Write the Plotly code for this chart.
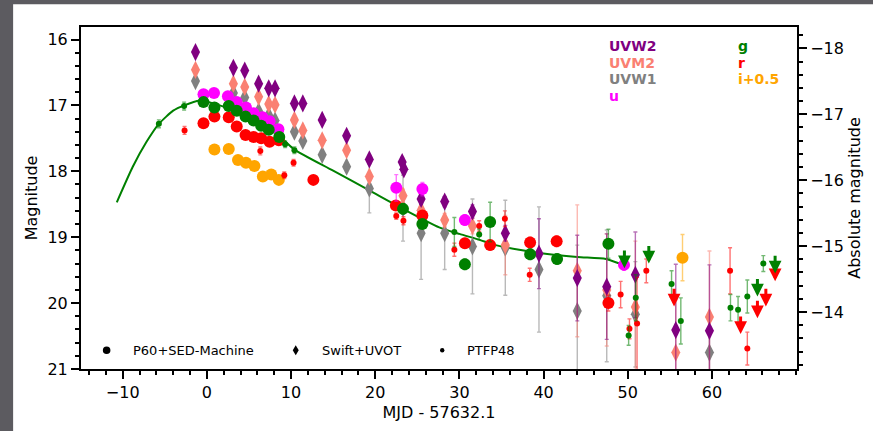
import plotly.graph_objects as go

# ---------------- data ----------------
DIST_MOD = 34.135  # distance modulus linking apparent and absolute magnitude

# P60 + SED-Machine photometry (large circles)
p60_u_t = [-0.4, 0.85, 2.5, 3.55, 4.65, 5.55, 6.6, 7.45, 8.5, 22.5, 25.6, 30.65, 49.55]
p60_u_m = [16.83, 16.81, 16.86, 16.95, 17.03, 17.12, 17.18, 17.24, 17.36, 18.25, 18.27, 18.74, 19.42]
p60_u_e = [0.04, 0.04, 0.04, 0.04, 0.04, 0.04, 0.04, 0.04, 0.04, 0.2, 0.1, 0.08, 0.08]

p60_g_t = [-0.4, 0.9, 2.6, 3.55, 4.6, 5.55, 6.45, 7.35, 8.6, 23.3, 25.6, 30.65, 33.65, 38.4, 41.6, 47.7]
p60_g_m = [16.95, 17.03, 17.01, 17.08, 17.17, 17.23, 17.31, 17.37, 17.48, 18.57, 18.80, 19.41, 18.77, 19.26, 19.33, 19.10]
p60_g_e = [0.04, 0.04, 0.04, 0.04, 0.04, 0.04, 0.04, 0.04, 0.04, 0.08, 0.06, 0.08, 0.3, 0.08, 0.08, 0.22]

p60_r_t = [-0.4, 0.9, 2.6, 3.55, 4.6, 5.55, 6.45, 7.45, 8.55, 12.65, 22.45, 25.6, 30.65, 33.65, 38.4, 41.55, 47.7]
p60_r_m = [17.27, 17.17, 17.18, 17.32, 17.45, 17.48, 17.50, 17.55, 17.53, 18.13, 18.52, 18.67, 19.09, 19.12, 19.08, 19.06, 20.00]
p60_r_e = [0.05, 0.05, 0.05, 0.05, 0.05, 0.05, 0.05, 0.05, 0.05, 0.05, 0.06, 0.06, 0.07, 0.07, 0.08, 0.08, 0.12]

p60_i_t = [0.9, 2.6, 3.7, 4.65, 5.65, 6.65, 7.65, 8.55, 56.5]
p60_i_m = [17.67, 17.66, 17.83, 17.87, 17.92, 18.08, 18.05, 18.13, 19.31]  # i + 0.5
p60_i_e = [0.04, 0.04, 0.04, 0.04, 0.04, 0.04, 0.04, 0.04, 0.35]

# Swift + UVOT photometry (diamonds)
uvw2_t = [-1.35, 3.15, 4.5, 6.15, 7.35, 8.1, 10.4, 11.4, 13.7, 16.6, 19.3, 23.2, 23.4, 25.45,
          28.25, 31.55, 35.45, 39.45, 44.0, 47.5, 50.9, 55.7, 59.7]
uvw2_m = [16.19, 16.43, 16.47, 16.67, 16.74, 16.74, 16.97, 16.97, 17.22, 17.46, 17.82, 17.86, 17.97, 18.42,
          18.46, 18.61, 18.94, 19.25, 19.62, 19.75, 19.57, 20.41, 20.42]
uvw2_e = [0.05, 0.05, 0.05, 0.05, 0.05, 0.05, 0.05, 0.05, 0.05, 0.05, 0.06, 0.07, 0.07, 0.08,
          0.08, 0.1, 0.12, 0.53, 0.65, 0.8, 0.65, 1.0, 1.0]

uvm2_t = [-1.35, 3.15, 4.5, 6.15, 7.35, 8.1, 10.4, 11.4, 13.7, 16.6, 19.3, 23.3, 25.45, 28.25,
          31.55, 35.45, 44.0, 47.5, 50.9, 55.7, 59.7]
uvm2_m = [16.46, 16.67, 16.72, 16.87, 16.98, 16.99, 17.22, 17.38, 17.53, 17.68, 18.08, 18.37, 18.59, 18.74,
          18.83, 19.12, 19.51, 19.80, 20.06, 20.75, 20.21]
uvm2_e = [0.05, 0.05, 0.05, 0.05, 0.05, 0.05, 0.05, 0.05, 0.05, 0.05, 0.05, 0.1, 0.1, 0.1,
          0.12, 0.45, 1.0, 0.85, 1.0, 0.8, 1.0]

uvw1_t = [-1.35, 3.15, 4.5, 6.15, 7.35, 8.1, 10.4, 11.4, 13.7, 16.6, 19.3, 23.3, 25.45, 28.25,
          31.55, 35.45, 39.45, 44.0, 47.5, 50.9, 59.7]
uvw1_m = [16.63, 16.81, 16.88, 17.09, 17.15, 17.23, 17.40, 17.54, 17.75, 17.93, 18.26, 18.56, 18.94, 18.94,
          19.14, 19.16, 19.49, 20.12, 19.89, 20.17, 20.75]
uvw1_e = [0.05, 0.05, 0.05, 0.05, 0.05, 0.05, 0.05, 0.05, 0.05, 0.05, 0.37, 0.5, 0.7, 0.55,
          0.72, 0.72, 0.95, 1.0, 1.0, 0.8, 0.3]

# PTF P48 photometry (small dots)
p48_g_t = [-5.7, -2.7, 9.3, 10.4, 29.4, 32.35, 50.1, 50.95, 55.2, 56.3, 62.2, 63.1, 64.2, 66.1]
p48_g_m = [17.28, 17.01, 17.59, 17.68, 18.92, 18.96, 20.49, 19.92, 19.71, 20.27, 20.07, 20.10, 19.90, 19.40]
p48_g_e = [0.06, 0.06, 0.05, 0.05, 0.22, 0.08, 0.15, 0.35, 0.2, 0.35, 0.2, 0.2, 0.25, 0.12]

p48_r_t = [-2.65, 6.35, 9.2, 10.3, 22.5, 23.35, 29.4, 32.35, 35.4, 38.35, 49.15, 50.2, 51.1, 52.2, 62.15, 64.2]
p48_r_m = [17.38, 17.69, 18.06, 17.87, 18.68, 18.75, 19.19, 18.83, 18.72, 19.57, 19.87, 20.39, 20.31, 19.51, 19.51, 20.69]
p48_r_e = [0.06, 0.06, 0.05, 0.05, 0.05, 0.06, 0.1, 0.08, 0.12, 0.1, 0.2, 0.15, 0.7, 0.18, 0.35, 0.25]

# upper limits (non-detections)
lim_g_t = [49.6, 52.5, 65.4, 67.5]
lim_g_m = [19.18, 19.11, 19.61, 19.26]
lim_r_t = [55.5, 63.4, 65.4, 66.4, 67.5]
lim_r_m = [19.76, 20.18, 19.94, 19.76, 19.38]
LIM_LEN = 0.29

# g-band light-curve model
model_t = [-10.7, -8.8, -7.2, -5.7, -4.0, -2.7, -0.9, 1.1, 3.1, 5.1, 7.0, 9.0, 10.4, 15.0,
           19.3, 23.0, 27.6, 30.0, 32.4, 34.3, 37.1, 39.5, 44.0, 47.4, 49.0, 49.6]
model_m = [18.47, 17.93, 17.56, 17.28, 17.08, 17.00, 16.93, 16.98, 17.08, 17.22, 17.33, 17.51, 17.67, 17.99,
           18.29, 18.55, 18.85, 18.95, 19.04, 19.12, 19.19, 19.24, 19.30, 19.33, 19.40, 19.43]

x_ticks = [-10, 0, 10, 20, 30, 40, 50, 60]

# ---------------- styling ----------------
C = dict(uvw2="#800080", uvm2="#fa8072", uvw1="#808080", u="#ff00ff",
         g="#008000", r="#ff0000", i="#ffa500")
FONT = "DejaVu Sans"


def rgba(hexcol, a):
    h = hexcol.lstrip("#")
    return "rgba(%d,%d,%d,%.2f)" % (int(h[0:2], 16), int(h[2:4], 16), int(h[4:6], 16), a)


def series(t, m, e, col, symbol, size):
    return go.Scatter(
        x=t, y=m, mode="markers", showlegend=False, hoverinfo="x+y",
        marker=dict(color=col, symbol=symbol, size=size, line=dict(width=0)),
        error_y=dict(type="data", array=e, visible=True, color=rgba(col, 0.55),
                     thickness=1.4, width=2),
    )


fig = go.Figure()

# model curve
fig.add_trace(go.Scatter(x=model_t, y=model_m, mode="lines", showlegend=False,
                         line=dict(color=C["g"], width=2, shape="spline", smoothing=0.6),
                         hoverinfo="skip"))

# Swift diamonds
fig.add_trace(series(uvw1_t, uvw1_m, uvw1_e, C["uvw1"], "diamond-tall", 13))
fig.add_trace(series(uvm2_t, uvm2_m, uvm2_e, C["uvm2"], "diamond-tall", 13))
fig.add_trace(series(uvw2_t, uvw2_m, uvw2_e, C["uvw2"], "diamond-tall", 13))

# P60 circles
fig.add_trace(series(p60_i_t, p60_i_m, p60_i_e, C["i"], "circle", 12))
fig.add_trace(series(p60_r_t, p60_r_m, p60_r_e, C["r"], "circle", 12))
fig.add_trace(series(p60_u_t, p60_u_m, p60_u_e, C["u"], "circle", 12))
fig.add_trace(series(p60_g_t, p60_g_m, p60_g_e, C["g"], "circle", 12))

# P48 dots
fig.add_trace(series(p48_r_t, p48_r_m, p48_r_e, C["r"], "circle", 6))
fig.add_trace(series(p48_g_t, p48_g_m, p48_g_e, C["g"], "circle", 6))

# invisible trace carrying the absolute-magnitude axis
fig.add_trace(go.Scatter(x=model_t, y=[m - DIST_MOD for m in model_m], yaxis="y2",
                         mode="markers", marker=dict(opacity=0), showlegend=False,
                         hoverinfo="skip"))

annotations = []

# upper-limit arrows
for tl, ml, col in [(lim_r_t, lim_r_m, C["r"]), (lim_g_t, lim_g_m, C["g"])]:
    for t, m in zip(tl, ml):
        annotations.append(dict(x=t, y=m + LIM_LEN, ax=t, ay=m, xref="x", yref="y",
                                axref="x", ayref="y", text="", showarrow=True,
                                arrowhead=2, arrowsize=0.85, arrowwidth=3,
                                arrowcolor=col, standoff=0, startstandoff=0))

# filter labels
band_rows = [0.943, 0.895, 0.847, 0.799]
for txt, col, yy in [("UVW2", C["uvw2"], band_rows[0]), ("UVM2", C["uvm2"], band_rows[1]),
                     ("UVW1", C["uvw1"], band_rows[2]), ("u", C["u"], band_rows[3])]:
    annotations.append(dict(x=0.735, y=yy, xref="paper", yref="paper", text="<b>%s</b>" % txt,
                            showarrow=False, xanchor="left", yanchor="middle",
                            font=dict(family=FONT, size=14, color=col)))
for txt, col, yy in [("g", C["g"], band_rows[0]), ("r", C["r"], band_rows[1]),
                     ("i+0.5", C["i"], band_rows[2])]:
    annotations.append(dict(x=0.9145, y=yy, xref="paper", yref="paper", text="<b>%s</b>" % txt,
                            showarrow=False, xanchor="left", yanchor="middle",
                            font=dict(family=FONT, size=14, color=col)))

# instrument key
key_y = 0.055
for txt, xx in [("P60+SED-Machine", 0.0693), ("Swift+UVOT", 0.3333), ("PTFP48", 0.537)]:
    annotations.append(dict(x=xx, y=key_y, xref="paper", yref="paper", text=txt,
                            showarrow=False, xanchor="left", yanchor="middle",
                            font=dict(family=FONT, size=13, color="black")))

shapes = [
    # white canvas inside the dark frame
    dict(type="rect", xref="paper", yref="paper", x0=-0.0948, x1=1.12, y0=-0.19, y1=1.0667,
         fillcolor="white", line=dict(width=0), layer="below"),
    # instrument key symbols
    dict(type="circle", xref="paper", yref="paper", xsizemode="pixel", ysizemode="pixel",
         xanchor=0.0358, yanchor=key_y, x0=-3.8, x1=3.8, y0=-3.8, y1=3.8,
         fillcolor="black", line=dict(width=0)),
    dict(type="path", xref="paper", yref="paper", xsizemode="pixel", ysizemode="pixel",
         xanchor=0.2999, yanchor=key_y, path="M 0 5 L 3 0 L 0 -5 L -3 0 Z",
         fillcolor="black", line=dict(width=0)),
    dict(type="circle", xref="paper", yref="paper", xsizemode="pixel", ysizemode="pixel",
         xanchor=0.5045, yanchor=key_y, x0=-2.2, x1=2.2, y0=-2.2, y1=2.2,
         fillcolor="black", line=dict(width=0)),
]

axis_common = dict(showgrid=False, zeroline=False, showline=True, linecolor="black",
                   linewidth=2, ticks="outside", ticklen=8, tickwidth=2, tickcolor="black",
                   tickfont=dict(family=FONT, size=16, color="black"))

fig.update_layout(
    width=873, height=431,
    margin=dict(l=81, r=75, t=27, b=59),
    paper_bgcolor="#5c5b60", plot_bgcolor="white",
    font=dict(family=FONT, color="black"),
    xaxis=dict(range=[-14.95, 70.1], tickmode="array", tickvals=x_ticks, mirror=True,
               minor=dict(ticks="outside", ticklen=4, tickwidth=1.5, dtick=2, tick0=0,
                          tickcolor="black"),
               title=dict(text="MJD - 57632.1", font=dict(family=FONT, size=16), standoff=6),
               **axis_common),
    yaxis=dict(range=[21, 15.81], dtick=1, tick0=16,
               minor=dict(ticks="outside", ticklen=4, tickwidth=1.5, dtick=0.2, tick0=16,
                          tickcolor="black"),
               title=dict(text="Magnitude", font=dict(family=FONT, size=16), standoff=6),
               **axis_common),
    yaxis2=dict(overlaying="y", side="right", range=[21 - DIST_MOD, 15.81 - DIST_MOD],
                dtick=1, tick0=-18,
                minor=dict(ticks="outside", ticklen=4, tickwidth=1.5, dtick=0.2, tick0=-18,
                           tickcolor="black"),
                title=dict(text="Absolute magnitude", font=dict(family=FONT, size=16), standoff=6),
                **axis_common),
    annotations=annotations,
    shapes=shapes,
)

fig.write_html("out.html")
